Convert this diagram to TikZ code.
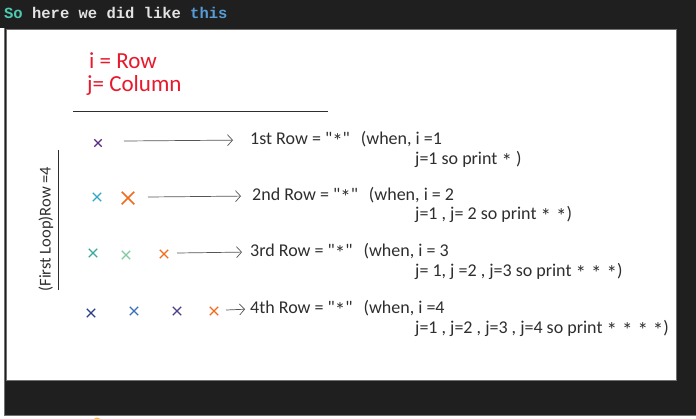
\documentclass[tikz,border=0pt]{standalone}
\usepackage{fontspec}
\setmainfont{Carlito}
\newfontfamily\codefont{Liberation Mono}
\usetikzlibrary{arrows.meta,shapes.misc}
\definecolor{darkbg}{HTML}{1F1F1F}
\definecolor{panelborder}{HTML}{707070}
\definecolor{inkgray}{HTML}{2E2E2E}
\definecolor{arrowgray}{HTML}{555555}
\definecolor{redink}{HTML}{E8192C}
\definecolor{kwteal}{HTML}{4EC9B0}
\definecolor{kwblue}{HTML}{569CD6}
\definecolor{codewhite}{HTML}{E4E4E4}
\definecolor{mpurple}{HTML}{5B2A86}
\definecolor{mcyan}{HTML}{2FA8C8}
\definecolor{morange}{HTML}{F26A1B}
\definecolor{mteal}{HTML}{3AA89A}
\definecolor{mgreen}{HTML}{7FCCA0}
\definecolor{mdblue}{HTML}{2A3E8C}
\definecolor{mblue}{HTML}{3A6FC0}
\definecolor{mviolet}{HTML}{4B3F8C}
\definecolor{myellow}{HTML}{F2C21B}
\newcommand{\handstar}{\raisebox{-0.22em}{\fontsize{21}{21}\selectfont *}}
\newcommand{\qstar}{\textquotedbl\handstar\textquotedbl}
\newcommand{\sgap}{\hspace{5pt}}
\begin{document}
\begin{tikzpicture}[x=1pt,y=-1pt,
  hand/.style={inner sep=0pt,anchor=west,text=inkgray,font=\fontsize{18}{20}\selectfont},
  redtxt/.style={inner sep=0pt,anchor=west,text=redink,font=\fontsize{23}{24}\selectfont},
  arr/.style={draw=arrowgray,line width=0.7pt,-{Straight Barb[length=5pt,width=11pt]}},
  xmark/.style={cross out,draw=#1,line width=1.3pt,minimum size=7pt,inner sep=0pt},
  bigx/.style={cross out,draw=#1,line width=1.5pt,minimum size=11pt,inner sep=0pt},
  rule/.style={draw=inkgray,line width=0.8pt}]
\useasboundingbox (0,0) rectangle (696,418);
\fill[white] (0,0) rectangle (696,418);
% dark window
\fill[darkbg] (0,0) rectangle (696,28);
\fill[darkbg] (4,28) rectangle (696,415);
\draw[panelborder,line width=0.8pt] (4.5,28) -- (4.5,415) -- (696,415);
\fill[white] (6,29) rectangle (676,380);
\draw[panelborder,line width=0.8pt] (6,29) rectangle (676,380);
% small yellow icon at bottom
\begin{scope}
\clip (0,415.5) rectangle (696,418);
\fill[myellow] (97,422) circle (4.5);
\end{scope}
% header
\node[inner sep=0pt,anchor=base west,font=\codefont\bfseries\fontsize{15.5}{17}\selectfont] (hdr) at (4,18)
  {\textcolor{kwteal}{So} \textcolor{codewhite}{here we did like} \textcolor{kwblue}{this}};
% red legend
\node[redtxt] (lgi) at (89,61) {i = Row};
\node[redtxt] (lgj) at (87,85) {j= Column};
\draw[rule] (73,111) -- (328,111);
% vertical label
\draw[rule] (58,150) -- (58,290);
\node[hand,anchor=center,rotate=90,font=\fontsize{16.5}{17}\selectfont] (vlab) at (46,229) {(First Loop)Row =4};
% row 1
\node[xmark=mpurple,minimum size=6pt] (m11) at (98,143) {};
\coordinate (s1) at (124,141);
\node[hand] (t1) at (250,140) {1st Row = \qstar\hspace{11pt}(when, i =1};
\node[hand] (u1) at (415,160) {j=1 so print \handstar\ )};
\draw[arr,shorten >=17pt] (s1) -- (t1.west);
% row 2
\node[xmark=mcyan] (m21) at (97,197) {};
\node[bigx=morange] (m22) at (128,198) {};
\coordinate (s2) at (148,197);
\node[hand] (t2) at (252,196) {2nd Row = \qstar\hspace{11pt}(when, i = 2};
\node[hand] (u2) at (415,215) {j=1 , j= 2 so print \handstar\sgap\handstar)};
\draw[arr,shorten >=11pt] (s2) -- (t2.west);
% row 3
\node[xmark=mteal] (m31) at (93,253) {};
\node[xmark=mgreen] (m32) at (126,255) {};
\node[xmark=morange] (m33) at (164,254) {};
\coordinate (s3) at (177,253);
\node[hand] (t3) at (250,252) {3rd Row = \qstar\hspace{11pt}(when, i = 3};
\node[hand] (u3) at (415,272) {j= 1, j =2 , j=3 so print \handstar\sgap\handstar\sgap\handstar)};
\draw[arr,shorten >=8pt] (s3) -- (t3.west);
% row 4
\node[xmark=mdblue] (m41) at (91,313) {};
\node[xmark=mblue] (m42) at (134,311) {};
\node[xmark=mviolet] (m43) at (177,311) {};
\node[xmark=morange] (m44) at (214,311) {};
\coordinate (s4) at (226,310);
\node[hand] (t4) at (250,309) {4th Row = \qstar\hspace{11pt}(when, i =4};
\node[hand] (u4) at (415,329) {j=1 , j=2 , j=3 , j=4 so print \handstar\sgap\handstar\sgap\handstar\sgap\handstar)};
\draw[arr,shorten >=5pt] (s4) -- (t4.west);
\end{tikzpicture}
\end{document}
